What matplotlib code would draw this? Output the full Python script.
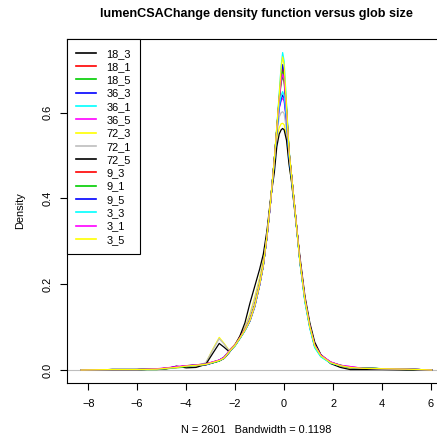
import matplotlib
matplotlib.use("Agg")
import matplotlib.pyplot as plt

plt.rcParams['font.family'] = ['Liberation Sans', 'DejaVu Sans']

# shared evaluation grid of the density estimates
x_grid = [-8.3, -7.0, -6.0, -5.2, -4.8, -4.4, -4.0, -3.6, -3.2, -2.9, -2.65, -2.45, -2.25,
          -2.0, -1.8, -1.6, -1.4, -1.2, -1.0, -0.85, -0.7, -0.55,
          -0.4, -0.3, -0.2, -0.12, -0.06, 0.0, 0.1, 0.2, 0.3, 0.45, 0.65, 0.85, 1.05,
          1.25, 1.5, 1.9, 2.3, 2.7, 3.2, 4.0, 5.0, 6.03]

labels = ["18_3", "18_1", "18_5", "36_3", "36_1", "36_5", "72_3", "72_1", "72_5",
          "9_3", "9_1", "9_5", "3_3", "3_1", "3_5"]
colors = ["black", "#FF0000", "#00CD00", "#0000FF", "#00FFFF", "#FF00FF", "#FFFF00", "#BEBEBE",
          "black", "#FF0000", "#00CD00", "#0000FF", "#00FFFF", "#FF00FF", "#FFFF00"]

d18_3 = [0.000, 0.001, 0.001, 0.002, 0.004, 0.007, 0.009, 0.010, 0.012, 0.017, 0.021, 0.027, 0.040, 0.060, 0.078, 0.095, 0.118, 0.152, 0.200, 0.245, 0.310, 0.392,
         0.490, 0.560, 0.630, 0.685, 0.700, 0.685, 0.605, 0.510, 0.455, 0.370, 0.255, 0.165, 0.103, 0.058, 0.034, 0.018, 0.010, 0.005, 0.004, 0.003, 0.001, 0.000]
d18_1 = [0.000, 0.000, 0.001, 0.002, 0.005, 0.006, 0.008, 0.011, 0.014, 0.019, 0.023, 0.029, 0.043, 0.057, 0.074, 0.092, 0.114, 0.148, 0.198, 0.243, 0.311, 0.394,
         0.490, 0.560, 0.632, 0.688, 0.705, 0.690, 0.607, 0.510, 0.455, 0.367, 0.251, 0.162, 0.100, 0.055, 0.033, 0.017, 0.009, 0.006, 0.004, 0.002, 0.002, 0.000]
d18_5 = [0.000, 0.001, 0.001, 0.001, 0.003, 0.006, 0.010, 0.012, 0.013, 0.018, 0.022, 0.030, 0.044, 0.059, 0.076, 0.094, 0.116, 0.150, 0.201, 0.246, 0.313, 0.396,
         0.490, 0.560, 0.628, 0.670, 0.684, 0.672, 0.598, 0.506, 0.455, 0.369, 0.253, 0.165, 0.104, 0.059, 0.035, 0.018, 0.011, 0.006, 0.005, 0.003, 0.002, 0.000]
d36_3 = [0.000, 0.001, 0.001, 0.002, 0.004, 0.006, 0.009, 0.011, 0.012, 0.017, 0.022, 0.028, 0.041, 0.058, 0.075, 0.093, 0.115, 0.149, 0.199, 0.244, 0.312, 0.395,
         0.490, 0.560, 0.635, 0.690, 0.712, 0.695, 0.610, 0.510, 0.455, 0.368, 0.252, 0.163, 0.101, 0.056, 0.033, 0.017, 0.010, 0.006, 0.004, 0.003, 0.002, 0.000]
d36_1 = [0.000, 0.001, 0.001, 0.002, 0.003, 0.005, 0.008, 0.011, 0.013, 0.018, 0.022, 0.028, 0.042, 0.057, 0.074, 0.092, 0.113, 0.147, 0.197, 0.242, 0.310, 0.393,
         0.490, 0.565, 0.645, 0.710, 0.740, 0.720, 0.620, 0.515, 0.455, 0.366, 0.249, 0.158, 0.097, 0.052, 0.031, 0.016, 0.010, 0.006, 0.004, 0.003, 0.001, 0.000]
d36_5 = [0.000, 0.001, 0.001, 0.002, 0.004, 0.008, 0.009, 0.012, 0.014, 0.019, 0.023, 0.029, 0.043, 0.058, 0.075, 0.093, 0.114, 0.148, 0.198, 0.244, 0.310, 0.392,
         0.485, 0.553, 0.610, 0.628, 0.634, 0.627, 0.578, 0.498, 0.450, 0.368, 0.254, 0.165, 0.102, 0.057, 0.034, 0.018, 0.011, 0.008, 0.004, 0.003, 0.002, 0.000]
d72_3 = [0.000, 0.001, 0.001, 0.002, 0.003, 0.005, 0.007, 0.008, 0.016, 0.050, 0.076, 0.062, 0.046, 0.060, 0.079, 0.100, 0.130, 0.170, 0.215, 0.255, 0.318, 0.398,
         0.475, 0.540, 0.565, 0.574, 0.575, 0.572, 0.545, 0.485, 0.440, 0.366, 0.255, 0.168, 0.105, 0.060, 0.035, 0.017, 0.008, 0.004, 0.003, 0.002, 0.001, 0.000]
d72_1 = [0.000, 0.001, 0.001, 0.002, 0.003, 0.005, 0.007, 0.009, 0.017, 0.048, 0.073, 0.060, 0.045, 0.059, 0.078, 0.098, 0.126, 0.165, 0.210, 0.252, 0.316, 0.397,
         0.480, 0.550, 0.590, 0.600, 0.602, 0.598, 0.560, 0.490, 0.445, 0.367, 0.254, 0.167, 0.104, 0.059, 0.034, 0.017, 0.009, 0.005, 0.003, 0.002, 0.001, 0.000]
d72_5 = [0.000, 0.001, 0.001, 0.002, 0.003, 0.009, 0.005, 0.006, 0.013, 0.040, 0.062, 0.053, 0.043, 0.058, 0.080, 0.110, 0.155, 0.195, 0.235, 0.270, 0.325, 0.400,
         0.460, 0.520, 0.550, 0.560, 0.563, 0.560, 0.535, 0.480, 0.440, 0.362, 0.262, 0.172, 0.110, 0.065, 0.036, 0.015, 0.006, 0.001, 0.001, 0.001, 0.000, 0.000]
d9_3 = [0.000, 0.001, 0.001, 0.002, 0.004, 0.006, 0.010, 0.011, 0.013, 0.018, 0.022, 0.028, 0.042, 0.058, 0.076, 0.094, 0.116, 0.151, 0.200, 0.245, 0.312, 0.395,
        0.490, 0.560, 0.630, 0.680, 0.695, 0.682, 0.603, 0.509, 0.455, 0.369, 0.253, 0.164, 0.102, 0.057, 0.034, 0.018, 0.010, 0.006, 0.004, 0.003, 0.002, 0.000]
d9_1 = [0.000, 0.001, 0.001, 0.002, 0.004, 0.006, 0.008, 0.012, 0.014, 0.017, 0.021, 0.029, 0.043, 0.057, 0.075, 0.093, 0.115, 0.150, 0.200, 0.245, 0.312, 0.394,
        0.490, 0.560, 0.630, 0.680, 0.695, 0.682, 0.603, 0.508, 0.455, 0.369, 0.252, 0.166, 0.104, 0.058, 0.034, 0.018, 0.011, 0.006, 0.005, 0.003, 0.002, 0.000]
d9_5 = [0.000, 0.001, 0.001, 0.002, 0.004, 0.007, 0.009, 0.012, 0.013, 0.018, 0.023, 0.030, 0.042, 0.058, 0.075, 0.093, 0.114, 0.149, 0.199, 0.244, 0.311, 0.394,
        0.485, 0.555, 0.612, 0.632, 0.641, 0.633, 0.580, 0.500, 0.450, 0.368, 0.252, 0.163, 0.101, 0.056, 0.033, 0.017, 0.010, 0.006, 0.004, 0.003, 0.002, 0.000]
d3_3 = [0.000, 0.001, 0.001, 0.002, 0.004, 0.006, 0.009, 0.011, 0.013, 0.018, 0.022, 0.028, 0.042, 0.057, 0.074, 0.092, 0.114, 0.148, 0.198, 0.243, 0.311, 0.393,
        0.485, 0.555, 0.615, 0.640, 0.649, 0.640, 0.585, 0.500, 0.450, 0.366, 0.249, 0.159, 0.098, 0.053, 0.031, 0.016, 0.010, 0.006, 0.004, 0.003, 0.002, 0.000]
d3_1 = [0.000, 0.001, 0.001, 0.003, 0.005, 0.008, 0.010, 0.012, 0.014, 0.019, 0.023, 0.030, 0.044, 0.059, 0.076, 0.094, 0.115, 0.149, 0.199, 0.244, 0.311, 0.393,
        0.490, 0.560, 0.630, 0.675, 0.690, 0.678, 0.600, 0.508, 0.455, 0.369, 0.254, 0.166, 0.103, 0.058, 0.035, 0.019, 0.011, 0.008, 0.004, 0.003, 0.002, 0.000]
d3_5 = [0.000, 0.001, 0.001, 0.002, 0.004, 0.006, 0.009, 0.011, 0.013, 0.018, 0.022, 0.028, 0.042, 0.058, 0.075, 0.093, 0.115, 0.150, 0.200, 0.245, 0.312, 0.395,
        0.490, 0.565, 0.640, 0.705, 0.730, 0.712, 0.615, 0.512, 0.455, 0.368, 0.252, 0.163, 0.101, 0.056, 0.033, 0.017, 0.010, 0.006, 0.004, 0.003, 0.002, 0.000]

series = [d18_3, d18_1, d18_5, d36_3, d36_1, d36_5, d72_3, d72_1, d72_5,
          d9_3, d9_1, d9_5, d3_3, d3_1, d3_5]

x_ticks = [-8, -6, -4, -2, 0, 2, 4, 6]
y_ticks = [0.0, 0.2, 0.4, 0.6]
y_tick_labels = ["0.0", "0.2", "0.4", "0.6"]

title = "lumenCSAChange density function versus glob size"
x_label = "N = 2601   Bandwidth = 0.1198"
y_label = "Density"

W, H = 437, 442
fig = plt.figure(figsize=(W / 100, H / 100), dpi=100)
ax = fig.add_axes([66.7 / W, (H - 382.7) / H, (445.7 - 66.7) / W, (382.7 - 39) / H])

ax.axhline(0, color="#BEBEBE", lw=0.8, zorder=1)
for ys, c, lab in zip(series, colors, labels):
    ax.plot(x_grid, ys, color=c, lw=0.9, label=lab, zorder=2)

ax.set_xlim(-8.88, 6.6)
ax.set_ylim(-0.0296, 0.7716)
ax.set_xticks(x_ticks)
ax.set_yticks(y_ticks)
ax.set_yticklabels(y_tick_labels, rotation=90, va="center")
ax.tick_params(axis="both", direction="out", length=5, width=0.8, labelsize=7.9, colors="black")
ax.tick_params(axis="x", pad=6.5)
ax.tick_params(axis="y", pad=4.9)
for sp in ax.spines.values():
    sp.set_linewidth(0.8)
    sp.set_color("black")

leg = ax.legend(loc="upper left", bbox_to_anchor=(0, 1), borderaxespad=0, fontsize=7.9,
                handlelength=1.83, handletextpad=0.9, labelspacing=0.30, borderpad=0.88,
                fancybox=False, framealpha=1, edgecolor="black")
leg.get_frame().set_linewidth(0.8)
for line in leg.get_lines():
    line.set_linewidth(1.2)

fig.text(256 / W, 1 - 17.3 / H, title, ha="center", va="baseline", fontsize=9.1, fontweight="bold")
fig.text(256 / W, 1 - 432.7 / H, x_label, ha="center", va="baseline", fontsize=7.9)
fig.text(20.5 / W, 1 - 210.9 / H, y_label, ha="center", va="center", rotation=90, fontsize=7.9)

fig.savefig("out.png", dpi=100)
